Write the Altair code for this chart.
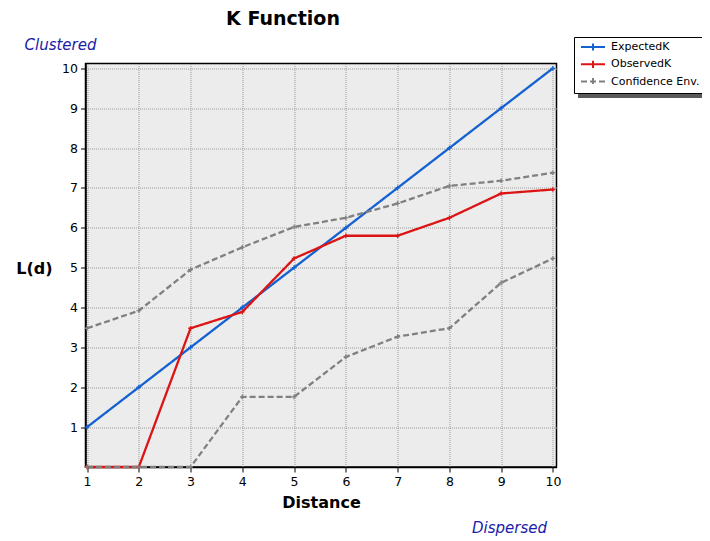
import altair as alt
import pandas as pd

distance = [1, 2, 3, 4, 5, 6, 7, 8, 9, 10]
expected_k = [1, 2, 3, 4, 5, 6, 7, 8, 9, 10]
observed_k = [0, 0, 3.48, 3.89, 5.23, 5.80, 5.80, 6.25, 6.86, 6.96]
conf_upper = [3.48, 3.92, 4.95, 5.51, 6.02, 6.25, 6.61, 7.05, 7.18, 7.38]
conf_lower = [0, 0, 0, 1.76, 1.76, 2.76, 3.27, 3.48, 4.62, 5.23]

series_names = ["ExpectedK", "ObservedK", "Confidence Env."]
series_colors = ["#1462d2", "#dc1414", "#808080"]

rows = []
for i, d in enumerate(distance):
    rows.append({"d": d, "v": expected_k[i], "series": "ExpectedK", "line": "exp"})
    rows.append({"d": d, "v": observed_k[i], "series": "ObservedK", "line": "obs"})
    rows.append({"d": d, "v": conf_upper[i], "series": "Confidence Env.", "line": "up"})
    rows.append({"d": d, "v": conf_lower[i], "series": "Confidence Env.", "line": "lo"})
df = pd.DataFrame(rows)

FONT = "DejaVu Sans"
W, H = 471, 403.5

xscale = alt.Scale(domain=[0.97, 10.07], nice=False, zero=False)
yscale = alt.Scale(domain=[0, 10.12], nice=False, zero=False)
cscale = alt.Scale(domain=series_names, range=series_colors)
dscale = alt.Scale(domain=series_names, range=[[1, 0], [1, 0], [6, 3]])

base = alt.Chart(df)

lines = base.mark_line(strokeWidth=2.3).encode(
    x=alt.X("d:Q", scale=xscale,
            axis=alt.Axis(values=distance, title="Distance", format="d")),
    y=alt.Y("v:Q", scale=yscale,
            axis=alt.Axis(values=list(range(1, 11)), title="L(d)", format="d")),
    color=alt.Color("series:N", scale=cscale, title=None,
                    legend=alt.Legend(orient="none", legendX=488.5, legendY=-26.5)),
    strokeDash=alt.StrokeDash("series:N", scale=dscale, title=None),
    detail="line:N",
)

point_layers = []
for name, col in zip(series_names, series_colors):
    point_layers.append(
        base.transform_filter(alt.datum.series == name).mark_point(
            shape="M-1,0H1M0,-1V1", filled=False, size=22, strokeWidth=1.3,
            opacity=1, color=col
        ).encode(
            x=alt.X("d:Q", scale=xscale),
            y=alt.Y("v:Q", scale=yscale),
            detail="line:N",
        )
    )

shadow = alt.Chart(pd.DataFrame({"a": [0]})).mark_rect(color="#5a5a5a").encode(
    x=alt.value(492.5), x2=alt.value(620), y=alt.value(-23.5), y2=alt.value(34.5)
)

title = alt.Chart(pd.DataFrame({"t": ["K Function"]})).mark_text(
    fontSize=19, fontWeight="bold", font=FONT, align="center", baseline="middle", color="#000000"
).encode(x=alt.value(197.5), y=alt.value(-45), text="t:N")

clustered = alt.Chart(pd.DataFrame({"t": ["Clustered"]})).mark_text(
    fontSize=15, fontStyle="italic", font=FONT, align="left", baseline="middle",
    color="#1c1ca8"
).encode(x=alt.value(-61), y=alt.value(-18.5), text="t:N")

dispersed = alt.Chart(pd.DataFrame({"t": ["Dispersed"]})).mark_text(
    fontSize=15, fontStyle="italic", font=FONT, align="left", baseline="middle",
    color="#1c1ca8"
).encode(x=alt.value(386.5), y=alt.value(464), text="t:N")

chart = alt.layer(shadow, lines, *point_layers, title, clustered, dispersed).properties(
    width=W, height=H,
    autosize=alt.AutoSizeParams(type="none"),
    padding={"left": 77.5, "top": 55.5, "right": 145.5, "bottom": 70},
    background="#ffffff",
).configure_view(
    fill="#ececec", stroke="#000000", strokeWidth=1.5
).configure_axis(
    labelFont=FONT, labelFontSize=12.5, labelColor="#000000",
    titleFont=FONT, titleFontSize=16, titleFontWeight="bold", titleColor="#000000",
    domain=True, domainColor="#000000", domainWidth=1.5,
    ticks=True, tickColor="#000000", tickSize=5,
    grid=True, gridColor="#9a9a9a", gridDash=[1, 1], gridWidth=1,
    labelPadding=3,
).configure_axisX(
    titlePadding=7,
).configure_axisY(
    titleAngle=0, titleAlign="center", titleBaseline="middle",
    titleX=-51.5, titleY=204.5,
).configure_legend(
    fillColor="#ffffff", strokeColor="#000000", padding=3,
    labelFont=FONT, labelFontSize=11, labelColor="#000000",
    symbolType="M-2,0H2M0,-0.6V0.6", symbolSize=144, symbolStrokeWidth=2,
    symbolOffset=9, rowPadding=1.3, labelOffset=11,
)

chart.save("out.html", embed_options={"renderer": "svg", "actions": False})
